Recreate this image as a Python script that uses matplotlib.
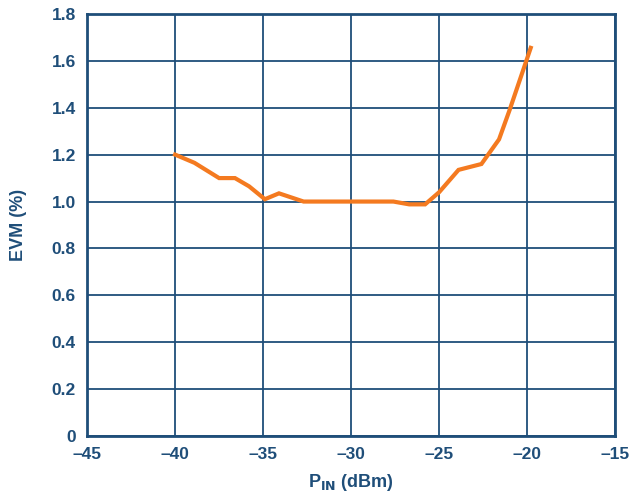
import matplotlib
matplotlib.use("Agg")
from matplotlib import pyplot as plt

# EVM vs input power
p_in = [-40, -38.9, -37.5, -36.6, -35.8, -34.9, -34.1, -32.7, -30, -27.6,
        -26.7, -25.8, -25.0, -23.9, -22.6, -21.6, -21.0, -19.8]
evm = [1.20, 1.165, 1.10, 1.10, 1.065, 1.01, 1.035, 1.00, 1.00, 1.00,
       0.988, 0.988, 1.04, 1.135, 1.16, 1.265, 1.39, 1.655]

xticks = [-45, -40, -35, -30, -25, -20, -15]
xticklabels = ["\u201345", "\u201340", "\u201335", "\u201330", "\u201325", "\u201320", "\u201315"]
yticks = [0, 0.2, 0.4, 0.6, 0.8, 1.0, 1.2, 1.4, 1.6, 1.8]
yticklabels = ["0", "0.2", "0.4", "0.6", "0.8", "1.0", "1.2", "1.4", "1.6", "1.8"]

blue = "#1f4e79"
orange = "#f47a20"

plt.rcParams["font.family"] = ["Liberation Sans", "DejaVu Sans"]

fig = plt.figure(figsize=(6.31, 4.94), dpi=100)
ax = fig.add_axes([0.138, 0.117, 0.837, 0.855])

ax.plot(p_in, evm, "-", color=orange, lw=3, solid_joinstyle="miter", zorder=3)

ax.set_xlim(-45, -15)
ax.set_ylim(0, 1.8)
ax.set_xticks(xticks)
ax.set_xticklabels(xticklabels)
ax.set_yticks(yticks)
ax.set_yticklabels(yticklabels)
ax.grid(True, color=blue, lw=1.3)
ax.tick_params(length=0, labelsize=12.5, labelcolor=blue)
ax.tick_params(axis="x", pad=8)
ax.tick_params(axis="y", pad=8)
for lab in ax.get_xticklabels() + ax.get_yticklabels():
    lab.set_fontweight("bold")
for s in ax.spines.values():
    s.set_color(blue)
    s.set_linewidth(2)

ax.set_xlabel("P$_{\\mathbf{IN}}$ (dBm)", color=blue, fontsize=13, fontweight="bold", labelpad=7)
ax.set_ylabel("EVM (%)", color=blue, fontsize=13, fontweight="bold", labelpad=18)

fig.savefig("out.png", dpi=100)
